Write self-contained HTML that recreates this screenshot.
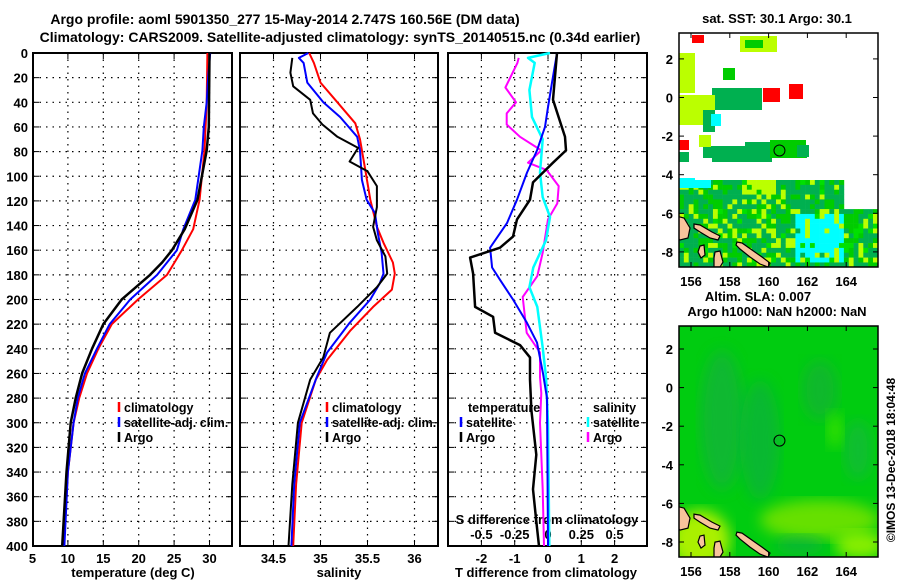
<!DOCTYPE html>
<html><head><meta charset="utf-8">
<style>
html,body{margin:0;padding:0;background:#fff;}
svg{display:block;font-family:"Liberation Sans",Arial,sans-serif;font-weight:bold;}
text{font-size:13px;fill:#000;}
.lg text{font-size:12.5px;}
</style></head>
<body>
<svg id="chart" width="900" height="580" viewBox="0 0 900 580" xmlns="http://www.w3.org/2000/svg">
<defs>
<filter id="blur6"><feGaussianBlur stdDeviation="7"/></filter>
<clipPath id="clipTop"><rect x="679" y="33" width="199" height="234"/></clipPath>
<clipPath id="clipBot"><rect x="679" y="326" width="199" height="231"/></clipPath>
</defs>
<text x="285" y="24" text-anchor="middle" style="font-size:14px">Argo profile: aoml 5901350_277 15-May-2014 2.747S 160.56E (DM data)</text>
<text x="340" y="42" text-anchor="middle" style="font-size:14px">Climatology: CARS2009. Satellite-adjusted climatology: synTS_20140515.nc (0.34d earlier)</text>
<g id="layer"></g>
</svg>
<script>
// ---------- data ----------
const depthTicks = [0,20,40,60,80,100,120,140,160,180,200,220,240,260,280,300,320,340,360,380,400];
const tempTicks = [5,10,15,20,25,30];
const salTicks = [34.5,35,35.5,36];
const salTickLabels = ["34.5","35","35.5","36"];
const tdiffTicks = [-2,-1,0,1,2];
const sdiffTicks = [-0.5,-0.25,0,0.25,0.5];
const sdiffTickLabels = ["-0.5","-0.25","0","0.25","0.5"];

const tempClimDepth = [0,40,79,119,143,160,180,200,220,240,260,280,300,340,400];
const tempClimVal   = [29.7,29.6,29.3,28.6,27.7,26.1,24.0,19.9,16.2,14.3,12.7,11.6,10.8,10.0,9.4];
const tempSatDepth  = [0,20,40,60,79,119,143,160,180,200,220,240,260,280,300,340,400];
const tempSatVal    = [30.1,29.8,29.6,29.2,29.0,28.0,26.3,25.4,22.6,18.8,15.9,14.1,12.4,11.4,10.8,10.0,9.5];
const tempArgoDepth = [0,60,79,119,143,160,170,180,200,220,240,260,280,300,340,400];
const tempArgoVal   = [30.0,29.9,29.6,28.3,26.5,24.7,23.3,21.6,17.6,15.0,13.4,12.0,11.1,10.4,9.8,9.2];

const salClimDepth = [0,8,24,40,57,70,92,119,141,154,170,179,192,206,225,249,265,300,350,400];
const salClimVal   = [34.88,34.93,35.0,35.18,35.37,35.42,35.47,35.53,35.6,35.67,35.77,35.79,35.76,35.56,35.32,35.07,34.95,34.8,34.74,34.71];
const salSatDepth  = [0,4,8,24,40,52,68,79,103,119,130,146,162,179,187,200,219,243,263,300,350,400];
const salSatVal    = [34.87,34.77,34.82,34.86,35.03,35.21,35.39,35.42,35.44,35.49,35.58,35.61,35.65,35.67,35.63,35.53,35.31,35.07,34.96,34.78,34.72,34.69];
const salArgoDepth = [4,16,27,38,49,58,68,77,88,96,108,125,141,152,165,179,190,206,227,247,265,300,350,400];
const salArgoVal   = [34.7,34.68,34.71,34.89,34.92,35.02,35.18,35.4,35.31,35.5,35.6,35.6,35.56,35.6,35.69,35.71,35.6,35.39,35.1,35.03,34.89,34.76,34.7,34.66];

const tdSatDepth  = [0,24,44,60,79,97,119,138,158,174,184,200,219,235,260,280,400];
const tdSatVal    = [0.27,0.12,0,-0.09,-0.33,-0.63,-0.93,-1.23,-1.74,-1.68,-1.44,-1.05,-0.63,-0.33,-0.15,-0.03,0.0];
const tdArgoDepth = [0,38,68,79,89,105,119,135,149,158,166,179,206,214,227,237,247,265,290,326,354,380,400];
const tdArgoVal   = [0.27,0.15,0.51,0.54,0.15,-0.45,-0.54,-0.93,-1.05,-1.44,-2.34,-2.25,-2.19,-1.65,-1.59,-0.84,-0.54,-0.54,-0.5,-0.35,-0.45,-0.35,-0.27];
const sdSatDepth  = [0,4,8,30,52,70,97,117,133,152,174,190,206,239,263,300,400];
const sdSatVal    = [0.015,-0.15,-0.1,-0.14,-0.12,-0.04,-0.06,-0.04,0.015,-0.015,-0.11,-0.14,-0.08,-0.04,-0.015,0.0,0.01];
const sdArgoDepth = [4,8,28,40,49,58,68,79,89,95,108,122,135,162,181,198,227,243,263,276,300,354,400];
const sdArgoVal   = [-0.22,-0.23,-0.32,-0.24,-0.31,-0.31,-0.21,-0.05,-0.15,-0.01,0.08,0.07,0,-0.04,-0.08,-0.19,-0.16,-0.06,-0.06,-0.05,-0.06,-0.04,-0.03];

const lonTicks = [156,158,160,162,164];
const latTicks = [2,0,-2,-4,-6,-8];
const argoLon = 160.56, argoLat = -2.747;

// ---------- helpers ----------
const NS = "http://www.w3.org/2000/svg";
const layer = document.getElementById('layer');
function mk(tag, attrs, parent){ const e=document.createElementNS(NS,tag); for(const k in attrs) e.setAttribute(k,attrs[k]); (parent||layer).appendChild(e); return e; }
const yD = d => 53 + d*1.2325;
const xT = t => 209.5 + (t-30)*7.08;
const xS = s => 320.5 + (s-35)*94;
const xTd = t => 548 + t*33.3;
const xSd = s => 548 + s*133.2;

function panel(name, x0, x1, xticks, xfun){
  const g = mk('g',{});
  
  
  depthTicks.forEach(d=>{
    if(d>0 && d<400){
      const l=mk('line',{x1:x0,x2:x1,y1:yD(d),y2:yD(d),stroke:'#000','stroke-width':1.2,'stroke-dasharray':'1.5,5'},g);
      
      
    }
    mk('line',{x1:x0,x2:x0+6,y1:yD(d),y2:yD(d),stroke:'#000','stroke-width':1},g);
    mk('line',{x1:x1-6,x2:x1,y1:yD(d),y2:yD(d),stroke:'#000','stroke-width':1},g);
  });
  xticks.forEach(v=>{
    const x=xfun(v);
    if(x>x0+2 && x<x1-2){
      const l=mk('line',{x1:x,x2:x,y1:53,y2:546,stroke:'#000','stroke-width':1.2,'stroke-dasharray':'1.5,5'},g);
      
      
    }
    mk('line',{x1:x,x2:x,y1:546,y2:540,stroke:'#000','stroke-width':1},g);
    mk('line',{x1:x,x2:x,y1:53,y2:59,stroke:'#000','stroke-width':1},g);
  });
  const f=mk('rect',{x:x0,y:53,width:x1-x0,height:493,fill:'none',stroke:'#000','stroke-width':2},g);
  
  
  return g;
}
function line(name, depths, vals, xfun, color, w){
  const pts = depths.map((d,i)=> xfun(vals[i]).toFixed(1)+','+yD(d).toFixed(1)).join(' ');
  const p = mk('polyline',{points:pts,fill:'none',stroke:color,'stroke-width':w,'stroke-linejoin':'round'});
  
  
}
function txt(s,x,y,anchor,name,size){
  const t=mk('text',{x:x,y:y,'text-anchor':anchor||'start'});
  if(size) t.style.fontSize=size+'px';
  t.textContent=s;
  
  
  return t;
}
function legend(name, x, y, color, label){
  const g=mk('g',{class:'lg'});
  
  
  mk('line',{x1:x,x2:x,y1:y-10,y2:y,stroke:color,'stroke-width':2.5},g);
  const t=mk('text',{x:x+5,y:y},g); t.textContent=label;
}

// ---------- panels ----------
panel('temperature-panel',33,232,tempTicks,xT);
panel('salinity-panel',240,438,salTicks,xS);
panel('difference-panel',448,647,tdiffTicks,xTd);

depthTicks.forEach(d=>{ txt(String(d),28,yD(d)+5,'end','depth-tick-label'); });
tempTicks.forEach(v=>{ txt(String(v),xT(v),563,'middle','temperature-tick-label'); });
salTicks.forEach((v,i)=>{ txt(salTickLabels[i],xS(v),563,'middle','salinity-tick-label'); });
tdiffTicks.forEach(v=>{ txt(String(v),xTd(v),563,'middle','tdiff-tick-label'); });
sdiffTicks.forEach((v,i)=>{ txt(sdiffTickLabels[i],xSd(v),539,'middle','sdiff-tick-label'); });
txt('S difference from climatology',547,524,'middle','sdiff-axis-title');
txt('temperature (deg C)',133,577,'middle','temperature-axis-title');
txt('salinity',339,577,'middle','salinity-axis-title');
txt('T difference from climatology',546,577,'middle','tdiff-axis-title');

line('temp-climatology-line',tempClimDepth,tempClimVal,xT,'#ff0000',2);
line('temp-satellite-line',tempSatDepth,tempSatVal,xT,'#0000ff',2);
line('temp-argo-line',tempArgoDepth,tempArgoVal,xT,'#000000',2.5);
line('sal-climatology-line',salClimDepth,salClimVal,xS,'#ff0000',2);
line('sal-satellite-line',salSatDepth,salSatVal,xS,'#0000ff',2);
line('sal-argo-line',salArgoDepth,salArgoVal,xS,'#000000',2);
line('sdiff-argo-line',sdArgoDepth,sdArgoVal,xSd,'#ff00ff',2);
line('sdiff-satellite-line',sdSatDepth,sdSatVal,xSd,'#00ffff',2.5);
line('tdiff-satellite-line',tdSatDepth,tdSatVal,xTd,'#0000ff',2);
line('tdiff-argo-line',tdArgoDepth,tdArgoVal,xTd,'#000000',2.5);

legend('legend-climatology',119,412,'#ff0000','climatology');
legend('legend-satellite-adj',119,427,'#0000ff','satellite-adj. clim.');
legend('legend-argo',119,442,'#000000','Argo');
legend('legend2-climatology',327,412,'#ff0000','climatology');
legend('legend2-satellite-adj',327,427,'#0000ff','satellite-adj. clim.');
legend('legend2-argo',327,442,'#000000','Argo');
txt('temperature',468,412,'start','legend3-temperature-header',12.5);
legend('legend3-t-satellite',461,427,'#0000ff','satellite');
legend('legend3-t-argo',461,442,'#000000','Argo');
txt('salinity',593,412,'start','legend3-salinity-header',12.5);
legend('legend3-s-satellite',588,427,'#00ffff','satellite');
legend('legend3-s-argo',588,442,'#ff00ff','Argo');

// ---------- maps ----------
const mx = lon => 691 + (lon-156)*19.4;
const myTop = lat => 97.5 - lat*19.3;
const myBot = lat => 387.6 - lat*19.3;
function hash(i,j){ let h=(i*374761393 + j*668265263)>>>0; h=((h^(h>>>13))*1274126177)>>>0; return (h%1000)/1000; }

// top SST map
const gT = mk('g',{'clip-path':'url(#clipTop)'});


mk('rect',{x:679,y:33,width:199,height:234,fill:'#fff'},gT);
const cs=4.85;
for(let i=0;i<42;i++){ for(let j=0;j<20;j++){
  const x=679+i*cs, y=180+j*cs;
  if(x>843 && y<208) continue;
  const r=hash(i,j); let c;
  if(x>795 && x<842 && y>212 && y<262 && r<0.75) c='#00ffff';
  else if(r<0.45) c='#00b050'; else if(r<0.75) c='#00cc00'; else if(r<0.9) c='#bbff00'; else if(r<0.95) c='#00e000'; else c='#00b050';
  if(j<3 && i>12 && i<20 && r<0.6) c='#bbff00';
  mk('rect',{x:x,y:y,width:cs+0.3,height:cs+0.3,fill:c},gT);
}}
[[703,146,104,12,'#00b050'],[712,150,60,12,'#00b050'],[745,142,60,10,'#00b050'],[770,140,36,18,'#00cc00'],[797,145,12,12,'#00b050'],
 [712,88,50,22,'#00b050'],[735,98,25,12,'#00b050'],[679,95,36,30,'#bbff00'],[679,53,16,40,'#bbff00'],[740,36,37,16,'#bbff00'],[745,40,18,8,'#00cc00'],
 [723,68,12,12,'#00cc00'],[703,110,12,22,'#00b050'],[699,135,12,12,'#bbff00'],[711,114,10,12,'#00ffff'],[679,140,10,10,'#ff0000'],[679,152,10,10,'#00b050'],
 [763,88,17,14,'#ff0000'],[789,84,14,15,'#ff0000'],[692,35,12,8,'#ff0000'],[679,178,16,10,'#00ffff'],[695,180,16,8,'#00ffff']]
 .forEach(r=>mk('rect',{x:r[0],y:r[1],width:r[2],height:r[3],fill:r[4]},gT));
const landPts = "676,216 684,218 690,228 688,238 680,240 676,236 M694,224 700,225 712,232 720,236 718,240 710,238 700,232 694,228 M737,242 742,243 752,250 762,257 770,263 768,267 760,264 750,257 740,249 736,245 M700,246 704,245 705,255 701,258 698,252 M715,252 720,251 723,262 720,267 714,267 714,258";
function drawLand(g, dy){
  landPts.split('M').forEach(seg=>{
    const p = seg.trim().split(' ').map(s=>{const a=s.split(',');return a[0]+','+(+a[1]+dy);}).join(' ');
    mk('polygon',{points:p,fill:'#f8c49c',stroke:'#000','stroke-width':1.2},g);
  });
}
drawLand(gT,0);
mk('circle',{cx:mx(argoLon),cy:myTop(argoLat),r:5.5,fill:'none',stroke:'#000','stroke-width':1},gT);

// bottom SLA map
const gB = mk('g',{'clip-path':'url(#clipBot)'});


mk('rect',{x:679,y:326,width:199,height:231,fill:'#00cc10'},gB);
mk('ellipse',{cx:722,cy:420,rx:22,ry:70,fill:'#18b040',opacity:0.7,filter:'url(#blur6)'},gB);
mk('ellipse',{cx:760,cy:440,rx:20,ry:60,fill:'#10b040',opacity:0.7,filter:'url(#blur6)'},gB);
mk('ellipse',{cx:820,cy:390,rx:18,ry:30,fill:'#18b038',opacity:0.7,filter:'url(#blur6)'},gB);
mk('ellipse',{cx:858,cy:450,rx:14,ry:30,fill:'#18b840',opacity:0.7,filter:'url(#blur6)'},gB);
mk('ellipse',{cx:835,cy:430,rx:8,ry:18,fill:'#33e000',filter:'url(#blur6)'},gB);
mk('ellipse',{cx:820,cy:520,rx:60,ry:20,fill:'#66e000',filter:'url(#blur6)'},gB);
mk('ellipse',{cx:700,cy:540,rx:30,ry:30,fill:'#aaf000',filter:'url(#blur6)'},gB);
mk('ellipse',{cx:860,cy:545,rx:25,ry:14,fill:'#88ee00',filter:'url(#blur6)'},gB);
mk('ellipse',{cx:800,cy:545,rx:25,ry:10,fill:'#10b040',opacity:0.7,filter:'url(#blur6)'},gB);
drawLand(gB,290.1);
mk('circle',{cx:mx(argoLon),cy:myBot(argoLat),r:5.5,fill:'none',stroke:'#000','stroke-width':1},gB);

function mapAxes(name, y0, y1, myf){
  const g=mk('g',{});
  
  
  mk('rect',{x:679,y:y0,width:199,height:y1-y0,fill:'none',stroke:'#000','stroke-width':1.5},g);
  lonTicks.forEach(v=>{ const x=mx(v);
    mk('line',{x1:x,x2:x,y1:y1,y2:y1-5,stroke:'#000'},g); mk('line',{x1:x,x2:x,y1:y0,y2:y0+5,stroke:'#000'},g);
    const t=mk('text',{x:x,y:y1+19,'text-anchor':'middle'},g); t.textContent=String(v); });
  latTicks.forEach(v=>{ const y=myf(v);
    mk('line',{x1:679,x2:684,y1:y,y2:y,stroke:'#000'},g); mk('line',{x1:873,x2:878,y1:y,y2:y,stroke:'#000'},g);
    const t=mk('text',{x:673,y:y+5,'text-anchor':'end'},g); t.textContent=String(v); });
}
mapAxes('sst-map-axes',33,267,myTop);
mapAxes('sla-map-axes',326,557,myBot);
txt('sat. SST: 30.1 Argo: 30.1',777,23,'middle','sst-map-title');
txt('Altim. SLA: 0.007',758,301,'middle','sla-map-title');
txt('Argo h1000: NaN h2000: NaN',777,316,'middle','sla-map-subtitle');
const im=txt('\u00A9IMOS 13-Dec-2018 18:04:48',0,0,'middle','timestamp-label',12);
im.setAttribute('transform','translate(895,460) rotate(-90)');
</script>
</body></html>
